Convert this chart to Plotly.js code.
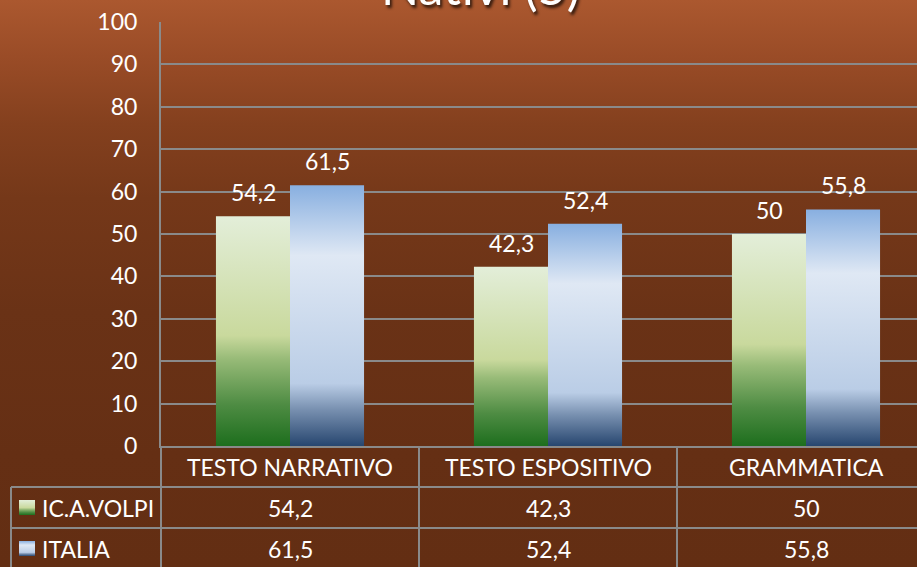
<!DOCTYPE html>
<html><head><meta charset="utf-8">
<script src="https://cdn.plot.ly/plotly-3.0.1.min.js"></script>
<style>
html,body{margin:0;padding:0;}
#chart{width:917px;height:567px;background:linear-gradient(to bottom,#ab582f 0%,#9a4c27 10%,#84401e 22%,#753819 35%,#6a3216 55%,#652f14 80%,#632e13 100%);}
</style>
</head><body>
<svg width="0" height="0" style="position:absolute">
<defs>
<linearGradient id="gGreen" x1="0" y1="0" x2="0" y2="1">
<stop offset="0" stop-color="#e3eed9"/>
<stop offset="0.52" stop-color="#c9d99d"/>
<stop offset="0.62" stop-color="#98bb78"/>
<stop offset="0.82" stop-color="#4e8c43"/>
<stop offset="1" stop-color="#1d6e1d"/>
</linearGradient>
<linearGradient id="gBlue" x1="0" y1="0" x2="0" y2="1">
<stop offset="0" stop-color="#88afe0"/>
<stop offset="0.27" stop-color="#dfe8f4"/>
<stop offset="0.76" stop-color="#bacde6"/>
<stop offset="0.86" stop-color="#7890b0"/>
<stop offset="1" stop-color="#27466f"/>
</linearGradient>
</defs>
</svg>
<div id="chart"></div>
<script>
const title = "Nativi (5)";
const categories = ["TESTO NARRATIVO", "TESTO ESPOSITIVO", "GRAMMATICA"];
const seriesNames = ["IC.A.VOLPI", "ITALIA"];
const volpi = [54.2, 42.3, 50];
const italia = [61.5, 52.4, 55.8];
const yTicks = [0, 10, 20, 30, 40, 50, 60, 70, 80, 90, 100];

const W = 917, H = 567, L = 161, T = 22, B = 121;
const plotW = W - L, plotH = H - T - B;
const px = x => (x - L) / plotW;
const py = y => (H - B - y) / plotH;
const fmt = v => String(v).replace('.', ',');
const FONT = "Lato, 'Open Sans', sans-serif";
const white = '#ffffff';
const grey = '#8a8a8a';

const xIdx = categories.map((c, i) => i);
const traces = [
  {type: 'bar', x: xIdx, y: volpi, name: seriesNames[0], marker: {color: '#a8c88a', line: {width: 0}}, hoverinfo: 'skip'},
  {type: 'bar', x: xIdx, y: italia, name: seriesNames[1], marker: {color: '#c0d2ea', line: {width: 0}}, hoverinfo: 'skip'}
];

const ann = [];
// title
ann.push({text: title, xref: 'paper', yref: 'paper', x: px(480), y: py(12), xanchor: 'center', yanchor: 'bottom', yshift: -6, showarrow: false,
  font: {family: FONT, size: 50, color: white, shadow: '2px 3px 3px rgba(0,0,0,0.7)'}});
// data labels
[volpi, italia].forEach((arr, s) => arr.forEach((v, i) => {
  ann.push({text: fmt(v), x: i, y: v, xref: 'x', yref: 'y', xshift: s === 0 ? -37 : 37, yshift: 8, yanchor: 'bottom', showarrow: false,
    font: {family: FONT, size: 23, color: white}});
}));
// table: category row
categories.forEach((c, i) => ann.push({text: c, x: i, y: py(467), xref: 'x', yref: 'paper', showarrow: false, yanchor: 'middle',
  font: {family: FONT, size: 23, color: white}}));
// table value rows
const rowY = [py(508), py(549)];
[volpi, italia].forEach((arr, s) => {
  ann.push({text: seriesNames[s], x: px(40), y: rowY[s], xref: 'paper', yref: 'paper', xanchor: 'left', yanchor: 'middle', showarrow: false,
    font: {family: FONT, size: 23, color: white}});
  arr.forEach((v, i) => ann.push({text: fmt(v), x: i, y: rowY[s], xref: 'x', yref: 'paper', yanchor: 'middle', showarrow: false,
    font: {family: FONT, size: 23, color: white}}));
});

const ln = {color: grey, width: 2};
const xEnd = -0.5 + plotW / 258;
const shapes = [
  {type: 'line', xref: 'paper', yref: 'paper', x0: px(11), x1: 0, y0: py(487), y1: py(487), line: ln},
  {type: 'line', xref: 'paper', yref: 'paper', x0: px(11), x1: 0, y0: py(528), y1: py(528), line: ln},
  {type: 'line', xref: 'x', yref: 'paper', x0: -0.5, x1: xEnd, y0: py(487), y1: py(487), line: ln},
  {type: 'line', xref: 'x', yref: 'paper', x0: -0.5, x1: xEnd, y0: py(528), y1: py(528), line: ln},
  {type: 'line', xref: 'paper', yref: 'paper', x0: px(11), x1: px(11), y0: py(487), y1: py(570), line: ln},
  {type: 'line', xref: 'paper', yref: 'paper', x0: 0, x1: 0, y0: 0, y1: py(570), line: ln},
  {type: 'line', xref: 'x', yref: 'paper', x0: 0.5, x1: 0.5, y0: 0, y1: py(570), line: ln},
  {type: 'line', xref: 'x', yref: 'paper', x0: 1.5, x1: 1.5, y0: 0, y1: py(570), line: ln},
  // legend keys
  {type: 'rect', xref: 'paper', yref: 'paper', x0: px(19), x1: px(35), y0: py(500), y1: py(515), line: {width: 0}, fillcolor: '#a8c88a'},
  {type: 'rect', xref: 'paper', yref: 'paper', x0: px(19), x1: px(35), y0: py(541), y1: py(556), line: {width: 0}, fillcolor: '#c0d2ea'}
];

const layout = {
  width: W, height: H,
  margin: {l: L, r: 0, t: T, b: B, pad: 0},
  paper_bgcolor: 'rgba(0,0,0,0)', plot_bgcolor: 'rgba(0,0,0,0)',
  showlegend: false,
  barmode: 'group', bargap: 0.426, bargroupgap: 0,
  separators: ', ',
  font: {family: FONT, size: 23, color: white},
  xaxis: {range: [-0.5, xEnd], showticklabels: false, showgrid: false, zeroline: false,
    showline: true, linecolor: grey, linewidth: 2, ticks: '', fixedrange: true},
  yaxis: {range: [0, 100], tickvals: yTicks, ticktext: yTicks.map(String), showgrid: true, gridcolor: grey, gridwidth: 2,
    zeroline: false, showline: true, linecolor: grey, linewidth: 2, ticks: '', ticklabelstandoff: 17,
    tickfont: {family: FONT, size: 23, color: white}, fixedrange: true},
  annotations: ann,
  shapes: shapes
};

Plotly.newPlot('chart', traces, layout, {staticPlot: true, displayModeBar: false}).then(gd => {
  const grads = ['url(#gGreen)', 'url(#gBlue)'];
  gd.querySelectorAll('.barlayer .trace').forEach((tr, s) => {
    tr.querySelectorAll('path').forEach(p => { p.style.fill = grads[s]; });
  });
  gd.querySelectorAll('.shapelayer path').forEach(p => {
    const f = p.style.fill;
    if (f === 'rgb(168, 200, 138)') p.style.fill = grads[0];
    else if (f === 'rgb(192, 210, 234)') p.style.fill = grads[1];
  });
});
</script>
</body></html>
